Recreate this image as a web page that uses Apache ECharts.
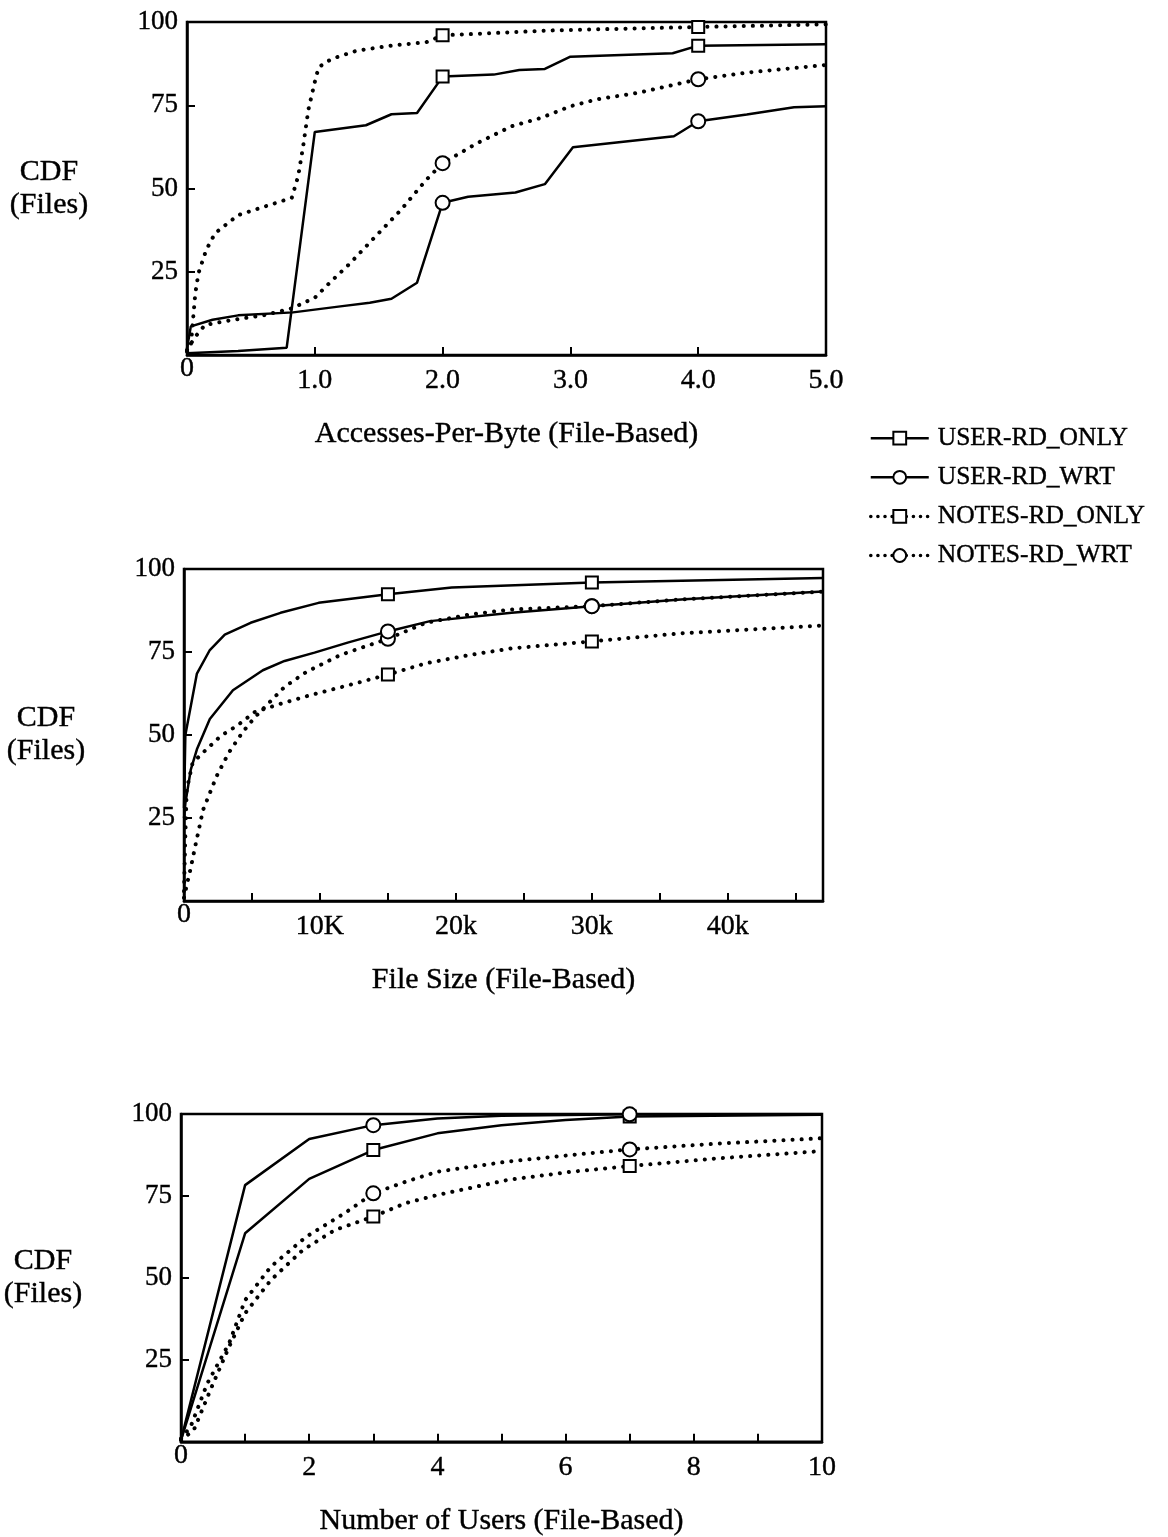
<!DOCTYPE html>
<html>
<head>
<meta charset="utf-8">
<script src="https://cdn.jsdelivr.net/npm/echarts@6/dist/echarts.min.js"></script>
<style>
  html, body { margin: 0; padding: 0; background: #fff; }
  #chart { width: 1168px; height: 1537px; }
</style>
</head>
<body>
<div id="chart"></div>
<script>
// ---------- DATA ----------
const seriesNames = ['USER-RD_ONLY', 'USER-RD_WRT', 'NOTES-RD_ONLY', 'NOTES-RD_WRT'];
const yTickLabels = ['25', '50', '75', '100'];

// Chart 1: Accesses-Per-Byte (File-Based)
const apbMarks = [2.0, 4.0];
const apbUserRdOnlyX = [0, 0.4, 0.78, 1.0, 1.4, 1.6, 1.8, 2.0, 2.4, 2.6, 2.8, 3.0, 3.8, 4.0, 5.0];
const apbUserRdOnlyY = [0.5, 1.2, 2.2, 67, 69, 72.3, 72.7, 83.6, 84.2, 85.6, 85.9, 89.6, 90.6, 92.9, 93.3];
const apbUserRdWrtX = [0, 0.03, 0.2, 0.4, 0.83, 1.2, 1.43, 1.6, 1.8, 2.0, 2.2, 2.57, 2.8, 3.02, 3.81, 4.0, 4.38, 4.75, 5.0];
const apbUserRdWrtY = [2, 8.6, 10.6, 11.9, 12.8, 14.6, 15.7, 16.9, 21.7, 45.7, 47.5, 48.8, 51.3, 62.4, 65.7, 70.2, 72.2, 74.4, 74.7];
const apbNotesRdOnlyX = [0, 0.03, 0.065, 0.09, 0.15, 0.22, 0.4, 0.61, 0.82, 0.87, 0.91, 0.95, 1.0, 1.03, 1.13, 1.33, 1.6, 1.87, 2.0, 2.87, 4.0, 5.0];
const apbNotesRdOnlyY = [1, 3, 18.5, 24.6, 31.5, 36.6, 42, 44.6, 47.2, 53.7, 63, 73.7, 82, 86.4, 88.9, 91.4, 92.9, 93.9, 96, 97.5, 98.5, 99.3];
const apbNotesRdWrtX = [0, 0.065, 0.14, 0.35, 0.61, 0.82, 1.0, 1.13, 1.27, 1.47, 1.67, 1.87, 2.0, 2.27, 2.54, 2.77, 3.0, 3.21, 3.54, 4.0, 4.38, 5.0];
const apbNotesRdWrtY = [1.5, 5.5, 9, 10.5, 12, 14, 17.2, 22.2, 27.3, 35.4, 43.4, 52.5, 57.6, 63.6, 68.7, 71.2, 74.7, 76.8, 78.8, 82.8, 84.8, 87.1];
const apbTickLabels = { 1: '1.0', 2: '2.0', 3: '3.0', 4: '4.0', 5: '5.0' };

// Chart 2: File Size (File-Based), x in thousands of bytes
const fsMarks = [15, 30];
const fsUserRdOnlyX = [0, 0.1, 0.95, 1.9, 3.0, 4.9, 7.1, 9.9, 15, 19.7, 30, 47];
const fsUserRdOnlyY = [28, 50, 68.5, 75.6, 80.2, 83.8, 86.8, 89.8, 92.4, 94.4, 95.9, 97.3];
const fsUserRdWrtX = [0, 0.1, 0.5, 0.95, 1.9, 3.6, 5.8, 7.4, 9.6, 12.1, 15, 18.1, 24.1, 30, 36.8, 47];
const fsUserRdWrtY = [25, 29.4, 39.6, 45.7, 54.8, 63.5, 69.5, 72.3, 74.8, 77.9, 81.2, 84.3, 86.8, 88.8, 90.9, 93.2];
const fsNotesRdOnlyX = [0, 0.1, 0.2, 0.63, 1.4, 2.7, 3.9, 5.2, 7.1, 9.3, 12.1, 15, 17.8, 21, 24.1, 30, 36.8, 47];
const fsNotesRdOnlyY = [3, 20, 33.5, 41.6, 44.7, 49.7, 52.8, 56.9, 59.4, 62, 65, 68.2, 71.6, 74.1, 76.1, 78.2, 80.7, 83];
const fsNotesRdWrtX = [0, 0.16, 0.5, 0.8, 1.4, 2.4, 3.3, 4.3, 5.2, 6.3, 7.4, 9, 11.5, 15, 17.8, 21, 24.1, 30, 36.8, 47];
const fsNotesRdWrtY = [1, 4, 10, 16, 27.4, 37.6, 44.7, 50.8, 55.3, 59.9, 64.5, 69, 74.1, 79, 83.8, 86.3, 87.8, 88.8, 90.9, 93.2];
const fsTickLabels = { 10: '10K', 20: '20k', 30: '30k', 40: '40k' };

// Chart 3: Number of Users (File-Based)
const nuMarks = [3, 7];
const nuUserRdOnlyX = [0, 1, 2, 3, 4, 5, 6, 7, 10];
const nuUserRdOnlyY = [0.5, 63.6, 80.2, 89, 94.1, 96.6, 98.2, 99.2, 99.8];
const nuUserRdWrtX = [0, 1, 2, 3, 4, 5, 7, 10];
const nuUserRdWrtY = [0.5, 78.3, 92.4, 96.6, 98.6, 99.5, 99.9, 100];
const nuNotesRdOnlyX = [0, 0.2, 0.48, 0.75, 1.0, 1.4, 1.9, 2.4, 3, 3.5, 4, 5.1, 6.1, 7, 8.4, 10];
const nuNotesRdOnlyY = [0.5, 3.6, 16.8, 29, 39.2, 49.3, 58.5, 64.6, 68.7, 72.8, 75.3, 79.9, 82.4, 84.1, 86.5, 88.7];
const nuNotesRdWrtX = [0, 0.15, 0.41, 0.75, 1.0, 1.4, 1.95, 2.55, 3, 3.5, 4, 5.1, 6.1, 7, 8.4, 10];
const nuNotesRdWrtY = [1, 4.6, 17.8, 30, 43.2, 53.4, 62.5, 69.7, 75.8, 79.3, 82.4, 85.5, 87.5, 89.2, 91, 92.6];
const nuTickLabels = { 2: '2', 4: '4', 6: '6', 8: '8', 10: '10' };

// ---------- BUILD ----------
const FONT = "'Liberation Serif', 'Times New Roman', serif";
const INK = '#000';
const TXT = { color: INK, fontFamily: FONT, textBorderColor: INK, textBorderWidth: 0.4 };
const SOLID = { color: INK, width: 2.5 };
const DOTTED = { color: INK, width: 4, type: [0.1, 9], cap: 'round' };

function pts(xs, ys, marks) {
  return xs.map((x, i) => marks.indexOf(x) >= 0 ? { value: [x, ys[i]] } : { value: [x, ys[i]], symbol: 'none' });
}
function mkSeries(name, xs, ys, marks, dotted, symbol, idx) {
  return {
    type: 'line', name: name, xAxisIndex: idx * 2, yAxisIndex: idx,
    data: pts(xs, ys, marks),
    symbol: symbol, symbolSize: symbol === 'emptyRect' ? 12 : 14,
    showAllSymbol: true, animation: false,
    lineStyle: dotted ? DOTTED : SOLID,
    itemStyle: { color: INK, borderWidth: 2.2 },
    z: dotted ? 2 : 3
  };
}

const grids = [
  { left: 187, top: 22, width: 639, height: 333 },
  { left: 184, top: 569, width: 639, height: 332 },
  { left: 181, top: 1114, width: 641, height: 328 }
];
const xCfg = [
  { min: 0, max: 5, interval: 1, labels: apbTickLabels, title: 'Accesses-Per-Byte (File-Based)' },
  { min: 0, max: 47, interval: 5, labels: fsTickLabels, title: 'File Size (File-Based)' },
  { min: 0, max: 10, interval: 1, labels: nuTickLabels, title: 'Number of Users (File-Based)' }
];

const xAxes = [], yAxes = [];
xCfg.forEach((c, i) => {
  xAxes.push({
    type: 'value', gridIndex: i, min: c.min, max: c.max, interval: c.interval, position: 'bottom',
    axisLine: { show: true, onZero: false, lineStyle: { color: INK, width: 2.5 } },
    axisTick: { show: true, inside: true, length: 8, lineStyle: { color: INK, width: 2 } },
    splitLine: { show: false },
    axisLabel: Object.assign({ margin: 12, fontSize: 28, showMaxLabel: true,
      formatter: v => (c.labels[Math.round(v * 1000) / 1000] || '') }, TXT),
    name: c.title, nameLocation: 'middle', nameGap: 64,
    nameTextStyle: Object.assign({ fontSize: 30 }, TXT)
  });
  // corner "0" label
  xAxes.push({
    type: 'value', gridIndex: i, min: c.min, max: c.max, interval: c.interval, position: 'bottom',
    axisLine: { show: false }, axisTick: { show: false }, splitLine: { show: false },
    axisLabel: Object.assign({ margin: 0, fontSize: 28, showMinLabel: true,
      formatter: v => (v === 0 ? '0' : '') }, TXT)
  });
  yAxes.push({
    type: 'value', gridIndex: i, min: 0, max: 100, interval: 25,
    axisLine: { show: true, onZero: false, lineStyle: { color: INK, width: 2.5 } },
    axisTick: { show: true, inside: true, length: 8, lineStyle: { color: INK, width: 2 } },
    splitLine: { show: false },
    axisLabel: Object.assign({ margin: 9, fontSize: 27,
      formatter: v => (yTickLabels.indexOf(String(v)) >= 0 ? String(v) : '') }, TXT),
    name: 'CDF\n(Files)', nameLocation: 'middle', nameRotate: 0, nameGap: 138,
    nameTextStyle: Object.assign({ fontSize: 30, lineHeight: 33, align: 'center', verticalAlign: 'middle' }, TXT)
  });
});

const series = [
  mkSeries(seriesNames[2], apbNotesRdOnlyX, apbNotesRdOnlyY, apbMarks, true, 'emptyRect', 0),
  mkSeries(seriesNames[3], apbNotesRdWrtX, apbNotesRdWrtY, apbMarks, true, 'emptyCircle', 0),
  mkSeries(seriesNames[0], apbUserRdOnlyX, apbUserRdOnlyY, apbMarks, false, 'emptyRect', 0),
  mkSeries(seriesNames[1], apbUserRdWrtX, apbUserRdWrtY, apbMarks, false, 'emptyCircle', 0),

  mkSeries(seriesNames[2], fsNotesRdOnlyX, fsNotesRdOnlyY, fsMarks, true, 'emptyRect', 1),
  mkSeries(seriesNames[3], fsNotesRdWrtX, fsNotesRdWrtY, fsMarks, true, 'emptyCircle', 1),
  mkSeries(seriesNames[0], fsUserRdOnlyX, fsUserRdOnlyY, fsMarks, false, 'emptyRect', 1),
  mkSeries(seriesNames[1], fsUserRdWrtX, fsUserRdWrtY, fsMarks, false, 'emptyCircle', 1),

  mkSeries(seriesNames[2], nuNotesRdOnlyX, nuNotesRdOnlyY, nuMarks, true, 'emptyRect', 2),
  mkSeries(seriesNames[3], nuNotesRdWrtX, nuNotesRdWrtY, nuMarks, true, 'emptyCircle', 2),
  mkSeries(seriesNames[0], nuUserRdOnlyX, nuUserRdOnlyY, nuMarks, false, 'emptyRect', 2),
  mkSeries(seriesNames[1], nuUserRdWrtX, nuUserRdWrtY, nuMarks, false, 'emptyCircle', 2)
];

const legendDotted = { color: INK, width: 3.5, type: [0.1, 7], cap: 'round' };
const option = {
  backgroundColor: '#fff',
  animation: false,
  grid: grids.map(g => Object.assign({ show: true, borderColor: INK, borderWidth: 2.5, backgroundColor: 'transparent' }, g)),
  xAxis: xAxes,
  yAxis: yAxes,
  legend: {
    data: [
      { name: seriesNames[0], lineStyle: { width: 2.5 } },
      { name: seriesNames[1], lineStyle: { width: 2.5 } },
      { name: seriesNames[2], lineStyle: legendDotted },
      { name: seriesNames[3], lineStyle: legendDotted }
    ],
    orient: 'vertical', left: 864, top: 420,
    itemWidth: 58, itemHeight: 16, itemGap: 12.7,
    itemStyle: { borderWidth: 2.2 },
    textStyle: Object.assign({ fontSize: 25.5, lineHeight: 25.5, padding: [0, 0, 0, 4] }, TXT),
    selectedMode: false
  },
  series: series
};

const chart = echarts.init(document.getElementById('chart'), null, { renderer: 'canvas' });
chart.setOption(option);
</script>
</body>
</html>
